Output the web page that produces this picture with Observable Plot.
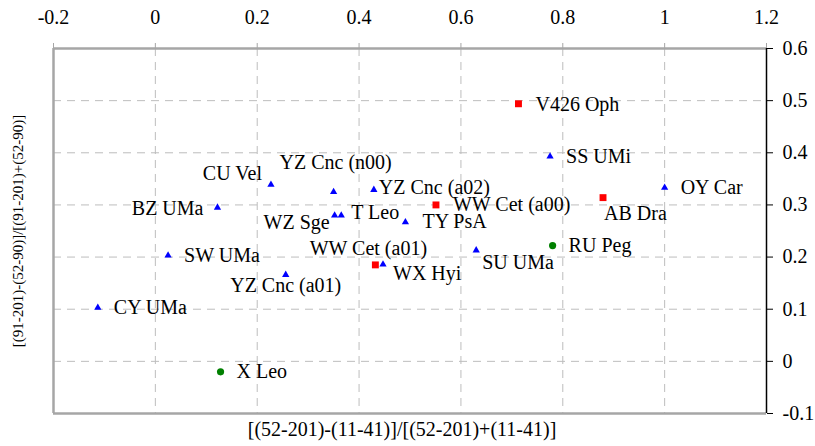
<!DOCTYPE html>
<html>
<head>
<meta charset="utf-8">
<script src="https://cdn.jsdelivr.net/npm/d3@7"></script>
<script src="https://cdn.jsdelivr.net/npm/@observablehq/plot@0.6"></script>
<style>
  html, body { margin: 0; padding: 0; background: #fff; }
  #chart svg { display: block; }
  #chart svg, #chart svg text { font-family: "Liberation Serif", "Times New Roman", Tinos, "DejaVu Serif", "Noto Serif", Times, serif !important; }
</style>
</head>
<body>
<div id="chart"></div>
<script>
// ---- data ----
const names = ["V426 Oph","SS UMi","OY Car","AB Dra","WW Cet (a00)","TY PsA","SU UMa","RU Peg",
  "YZ Cnc (a02)","YZ Cnc (n00)","CU Vel","BZ UMa","WZ Sge","T Leo","SW UMa","WW Cet (a01)",
  "WX Hyi","YZ Cnc (a01)","CY UMa","X Leo"];
const xValues = [0.713,0.775,1.000,0.879,0.551,0.491,0.630,0.780,
  0.429,0.350,0.227,0.122,0.352,0.365,0.025,0.432,
  0.447,0.256,-0.113,0.128];
const yValues = [0.494,0.393,0.333,0.314,0.300,0.267,0.213,0.222,
  0.329,0.325,0.339,0.295,0.280,0.280,0.203,0.185,
  0.186,0.166,0.103,-0.020];
const groups = ["square","triangle","triangle","square","square","triangle","triangle","circle",
  "triangle","triangle","triangle","triangle","triangle","triangle","triangle","square",
  "triangle","triangle","triangle","circle"];
const xTicks = [-0.2,0,0.2,0.4,0.6,0.8,1,1.2];
const yTicks = [-0.1,0,0.1,0.2,0.3,0.4,0.5,0.6];
const xLabel = "[(52-201)-(11-41)]/[(52-201)+(11-41)]";
const yLabel = "[(91-201)-(52-90)]/[(91-201)+(52-90)]";

// ---- label placement (layout only) ----
const placement = {
  "V426 Oph": [17, 1, "start"],
  "SS UMi": [16, 0, "start"],
  "OY Car": [16, 0, "start"],
  "AB Dra": [1, 16, "start"],
  "WW Cet (a00)": [17, 0, "start"],
  "TY PsA": [17, -1, "start"],
  "SU UMa": [6, 12, "start"],
  "RU Peg": [16, 0, "start"],
  "YZ Cnc (a02)": [5, -2, "start"],
  "YZ Cnc (n00)": [2, -29, "middle"],
  "CU Vel": [-9, -11, "end"],
  "BZ UMa": [-14, 1, "end"],
  "WZ Sge": [-5, 7, "end"],
  "T Leo": [10, -3, "start"],
  "SW UMa": [16, 0, "start"],
  "WW Cet (a01)": [-7, -16, "middle"],
  "WX Hyi": [10, 9, "start"],
  "YZ Cnc (a01)": [0, 11, "middle"],
  "CY UMa": [16, 0, "start"],
  "X Leo": [16, 0, "start"]
};

const data = names.map((n, i) => ({name: n, x: xValues[i], y: yValues[i], group: groups[i]}));
const styleOf = {
  triangle: {fill: "#0000ff", r: 2.7},
  square: {fill: "#ff0000", r: 3.9},
  circle: {fill: "#008000", r: 3.6}
};

const gray = "#a6a6a6";
const marks = [
  Plot.gridX(xTicks, {stroke: "#bdbdbd", strokeOpacity: 1, strokeDasharray: "8,6"}),
  Plot.gridY(yTicks, {stroke: "#bdbdbd", strokeOpacity: 1, strokeDasharray: "8,6"}),
  Plot.ruleX([-0.2], {stroke: gray, strokeWidth: 2.5}),
  Plot.ruleY([-0.1], {stroke: gray, strokeWidth: 2.5}),
  Plot.ruleY([0.6], {stroke: gray, strokeWidth: 2.5}),
  Plot.axisX({anchor: "top", ticks: xTicks, tickFormat: d => String(d), tickSize: 6, tickPadding: 19,
    stroke: gray, fill: "#000", label: null, fontSize: 20}),
  Plot.ruleX([1.2], {stroke: "#000", strokeWidth: 1.5}),
  Plot.axisY({anchor: "right", ticks: yTicks, tickFormat: d => String(d), tickSize: 6, tickPadding: 10,
    stroke: "#000", fill: "#000", label: null, fontSize: 20}),
  Plot.axisY({anchor: "left", ticks: [], tickSize: 0, label: yLabel, labelAnchor: "center", labelArrow: "none",
    labelOffset: 41, fontSize: 15, fill: "#000"}),
  Plot.text([xLabel], {frameAnchor: "bottom", lineAnchor: "middle", dx: -8, dy: 16, fontSize: 20, fill: "#000"})
];

for (const g of ["triangle", "square", "circle"]) {
  marks.push(Plot.dot(data.filter(d => d.group === g), {
    x: "x", y: "y", symbol: g, fill: styleOf[g].fill, stroke: "none", r: styleOf[g].r
  }));
}
for (const d of data) {
  const [dx, dy, anchor] = placement[d.name];
  marks.push(Plot.text([d], {x: "x", y: "y", text: "name", dx, dy, textAnchor: anchor,
    fontSize: 20, fill: "#000"}));
}

const chart = Plot.plot({
  width: 815,
  height: 446,
  marginLeft: 53,
  marginRight: 49,
  marginTop: 48,
  marginBottom: 33,
  style: {fontSize: "20px", background: "#fff", color: "#000"},
  x: {domain: [-0.2, 1.2]},
  y: {domain: [-0.1, 0.6]},
  marks
});
document.getElementById("chart").appendChild(chart);
</script>
</body>
</html>
